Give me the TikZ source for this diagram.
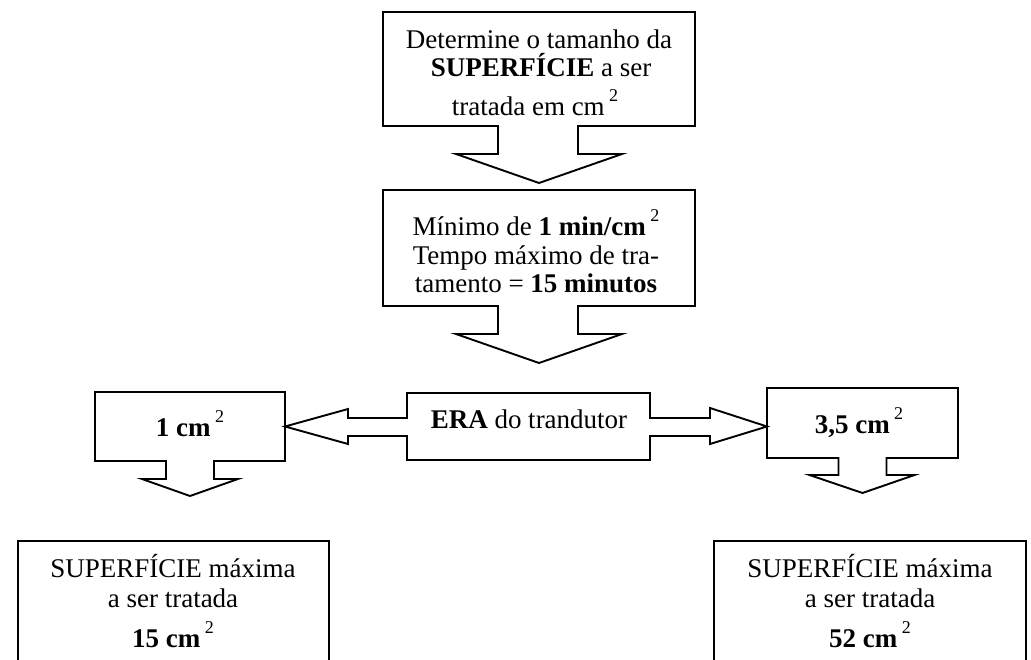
\documentclass[tikz,border=0pt]{standalone}
\usepackage{fontspec}
\setmainfont{Liberation Serif}
\usetikzlibrary{calc}
\newcommand\sqtwo{\,\raisebox{14pt}{\fontsize{18}{18}\selectfont 2}}
\begin{document}
\begin{tikzpicture}[x=1pt,y=-1pt,
  frame/.style={draw=none, inner sep=0pt, outer sep=0pt},
  outbox/.style={draw=black, line width=1.9pt, fill=white, inner sep=0pt, outer sep=0pt},
  shapeline/.style={draw=black, line width=1.9pt, fill=white, line join=miter},
  txt/.style={anchor=base, inner sep=0pt, outer sep=0pt, font=\fontsize{27}{28}\selectfont}]
\useasboundingbox (0,0) rectangle (1031,660);
\clip (0,0) rectangle (1031,660);
\fill[white] (0,0) rectangle (1031,660);

% frames of the callouts
\node[frame, minimum width=312pt, minimum height=114pt] (b1) at (539,69) {};
\node[frame, minimum width=312pt, minimum height=116pt] (b2) at (539,248) {};
\node[frame, minimum width=243pt, minimum height=67pt] (e) at (528.5,426.5) {};
\node[frame, minimum width=190pt, minimum height=69pt] (l) at (190,426.5) {};
\node[frame, minimum width=191pt, minimum height=70pt] (r) at (862.5,423) {};

% top callout
\draw[shapeline] (b1.south west) -- (b1.north west) -- (b1.north east) -- (b1.south east)
  -- ($(b1.south)+(39,0)$) -- ++(0,28) -- ++(44,0) -- ($(b1.south)+(0,57)$)
  -- ($(b1.south)+(-83,28)$) -- ++(42,0) -- ++(0,-28) -- cycle;
% second callout
\draw[shapeline] (b2.south west) -- (b2.north west) -- (b2.north east) -- (b2.south east)
  -- ($(b2.south)+(39,0)$) -- ++(0,28) -- ++(44,0) -- ($(b2.south)+(0,57)$)
  -- ($(b2.south)+(-83,28)$) -- ++(42,0) -- ++(0,-28) -- cycle;
% left callout
\draw[shapeline] (l.south west) -- (l.north west) -- (l.north east) -- (l.south east)
  -- ($(l.south)+(24,0)$) -- ++(0,18) -- ++(24,0) -- ($(l.south)+(0,35)$)
  -- ($(l.south)+(-48,18)$) -- ++(24,0) -- ++(0,-18) -- cycle;
% right callout
\draw[shapeline] (r.south west) -- (r.north west) -- (r.north east) -- (r.south east)
  -- ($(r.south)+(24,0)$) -- ++(0,17) -- ++(28,0) -- ($(r.south)+(0,35)$)
  -- ($(r.south)+(-53,17)$) -- ++(29,0) -- ++(0,-17) -- cycle;
% double-sided ERA callout
\draw[shapeline] (e.north west) -- (e.north east) -- ($(e.east)+(0,-8.5)$)
  -- ($(e.east)+(60,-8.5)$) -- ($(e.east)+(60,-18.5)$) -- (r.west |- e.east)
  -- ($(e.east)+(60,17.5)$) -- ($(e.east)+(60,9.5)$) -- ($(e.east)+(0,9.5)$)
  -- (e.south east) -- (e.south west) -- ($(e.west)+(0,9.5)$)
  -- ($(e.west)+(-59,9.5)$) -- ($(e.west)+(-59,17.5)$) -- (l.east |- e.west)
  -- ($(e.west)+(-59,-17.5)$) -- ($(e.west)+(-59,-8.5)$) -- ($(e.west)+(0,-8.5)$) -- cycle;

% bottom boxes (cut by the lower edge)
\node[outbox, minimum width=311pt, minimum height=160pt] (bl) at (173.5,621) {};
\node[outbox, minimum width=312pt, minimum height=160pt] (br) at (870,621) {};

% texts
\node[txt] (t1a) at (539,49) {Determine o tamanho da};
\node[txt] (t1b) at (541,77) {\textbf{SUPERFÍCIE} a ser};
\node[txt] (t1c) at (535,116) {tratada em cm\sqtwo};

\node[txt] (t2a) at (536,236) {Mínimo de \textbf{1 min/cm}\sqtwo};
\node[txt] (t2b) at (536,265) {Tempo máximo de tra-};
\node[txt] (t2c) at (536,293) {tamento = \textbf{15 minutos}};

\node[txt] (tl) at (190,436) {\textbf{1 cm}\sqtwo};
\node[txt] (te) at (529,428) {\textbf{ERA} do trandutor};
\node[txt] (tr) at (859,433) {\textbf{3,5 cm}\sqtwo};

\node[txt] (bla) at (173,577) {SUPERFÍCIE máxima};
\node[txt] (blb) at (173,607) {a ser tratada};
\node[txt] (blc) at (173,647) {\textbf{15 cm}\sqtwo};

\node[txt] (bra) at (870,577) {SUPERFÍCIE máxima};
\node[txt] (brb) at (870,607) {a ser tratada};
\node[txt] (brc) at (870,647) {\textbf{52 cm}\sqtwo};
\end{tikzpicture}
\end{document}
